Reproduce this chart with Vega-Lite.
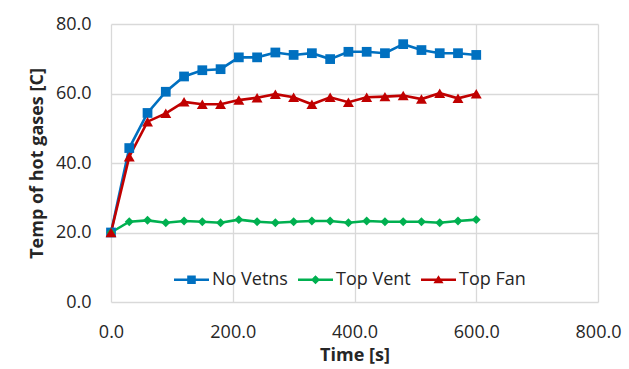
{
  "$schema": "https://vega.github.io/schema/vega-lite/v6.json",
  "width": 487,
  "height": 278,
  "autosize": {"type": "none"},
  "padding": {"left": 111, "top": 24, "right": 31, "bottom": 67},
  "background": "white",
  "config": {
    "font": "Open Sans",
    "view": {"stroke": null},
    "axis": {
      "labelFont": "Open Sans",
      "labelFontSize": 18,
      "labelColor": "#262626",
      "titleFont": "Open Sans",
      "titleFontSize": 18,
      "titleFontWeight": "bold",
      "titleColor": "#262626",
      "gridColor": "#D9D9D9",
      "gridWidth": 1.3,
      "domain": false,
      "ticks": false,
      "labelFlush": false
    }
  },
  "data": {
    "values": [
      {"time": 0, "series": "No Vetns", "temp": 20.0},
      {"time": 30, "series": "No Vetns", "temp": 44.3},
      {"time": 60, "series": "No Vetns", "temp": 54.4},
      {"time": 90, "series": "No Vetns", "temp": 60.5},
      {"time": 120, "series": "No Vetns", "temp": 64.9},
      {"time": 150, "series": "No Vetns", "temp": 66.7},
      {"time": 180, "series": "No Vetns", "temp": 67.0},
      {"time": 210, "series": "No Vetns", "temp": 70.4},
      {"time": 240, "series": "No Vetns", "temp": 70.4},
      {"time": 270, "series": "No Vetns", "temp": 71.8},
      {"time": 300, "series": "No Vetns", "temp": 71.1},
      {"time": 330, "series": "No Vetns", "temp": 71.6},
      {"time": 360, "series": "No Vetns", "temp": 69.9},
      {"time": 390, "series": "No Vetns", "temp": 72.0},
      {"time": 420, "series": "No Vetns", "temp": 72.0},
      {"time": 450, "series": "No Vetns", "temp": 71.6},
      {"time": 480, "series": "No Vetns", "temp": 74.2},
      {"time": 510, "series": "No Vetns", "temp": 72.5},
      {"time": 540, "series": "No Vetns", "temp": 71.6},
      {"time": 570, "series": "No Vetns", "temp": 71.6},
      {"time": 600, "series": "No Vetns", "temp": 71.1},
      {"time": 0, "series": "Top Vent", "temp": 20.0},
      {"time": 30, "series": "Top Vent", "temp": 23.1},
      {"time": 60, "series": "Top Vent", "temp": 23.5},
      {"time": 90, "series": "Top Vent", "temp": 22.8},
      {"time": 120, "series": "Top Vent", "temp": 23.3},
      {"time": 150, "series": "Top Vent", "temp": 23.1},
      {"time": 180, "series": "Top Vent", "temp": 22.8},
      {"time": 210, "series": "Top Vent", "temp": 23.7},
      {"time": 240, "series": "Top Vent", "temp": 23.1},
      {"time": 270, "series": "Top Vent", "temp": 22.8},
      {"time": 300, "series": "Top Vent", "temp": 23.1},
      {"time": 330, "series": "Top Vent", "temp": 23.3},
      {"time": 360, "series": "Top Vent", "temp": 23.3},
      {"time": 390, "series": "Top Vent", "temp": 22.8},
      {"time": 420, "series": "Top Vent", "temp": 23.3},
      {"time": 450, "series": "Top Vent", "temp": 23.1},
      {"time": 480, "series": "Top Vent", "temp": 23.1},
      {"time": 510, "series": "Top Vent", "temp": 23.1},
      {"time": 540, "series": "Top Vent", "temp": 22.8},
      {"time": 570, "series": "Top Vent", "temp": 23.3},
      {"time": 600, "series": "Top Vent", "temp": 23.7},
      {"time": 0, "series": "Top Fan", "temp": 20.0},
      {"time": 30, "series": "Top Fan", "temp": 41.8},
      {"time": 60, "series": "Top Fan", "temp": 51.9},
      {"time": 90, "series": "Top Fan", "temp": 54.3},
      {"time": 120, "series": "Top Fan", "temp": 57.6},
      {"time": 150, "series": "Top Fan", "temp": 56.9},
      {"time": 180, "series": "Top Fan", "temp": 56.9},
      {"time": 210, "series": "Top Fan", "temp": 58.1},
      {"time": 240, "series": "Top Fan", "temp": 58.8},
      {"time": 270, "series": "Top Fan", "temp": 59.8},
      {"time": 300, "series": "Top Fan", "temp": 58.9},
      {"time": 330, "series": "Top Fan", "temp": 56.9},
      {"time": 360, "series": "Top Fan", "temp": 58.9},
      {"time": 390, "series": "Top Fan", "temp": 57.5},
      {"time": 420, "series": "Top Fan", "temp": 58.9},
      {"time": 450, "series": "Top Fan", "temp": 59.1},
      {"time": 480, "series": "Top Fan", "temp": 59.4},
      {"time": 510, "series": "Top Fan", "temp": 58.4},
      {"time": 540, "series": "Top Fan", "temp": 60.1},
      {"time": 570, "series": "Top Fan", "temp": 58.6},
      {"time": 600, "series": "Top Fan", "temp": 59.9}
    ]
  },
  "encoding": {
    "x": {
      "field": "time",
      "type": "quantitative",
      "title": "Time [s]",
      "scale": {"domain": [0, 800], "nice": false, "zero": false},
      "axis": {"values": [0, 200, 400, 600, 800], "format": ".1f", "labelPadding": 21, "titlePadding": 5}
    },
    "y": {
      "field": "temp",
      "type": "quantitative",
      "title": "Temp of hot gases [C]",
      "scale": {"domain": [0, 80], "nice": false},
      "axis": {"values": [0, 20, 40, 60, 80], "format": ".1f", "labelPadding": 20, "titlePadding": 9}
    }
  },
  "layer": [
    {
      "mark": {"type": "line", "strokeWidth": 2.6},
      "encoding": {
        "color": {
          "field": "series",
          "type": "nominal",
          "scale": {"domain": ["No Vetns", "Top Vent", "Top Fan"], "range": ["#0070C0", "#00B050", "#C00000"]},
          "legend": {
            "orient": "none",
            "direction": "horizontal",
            "legendX": 63,
            "legendY": 238,
            "title": null,
            "labelFont": "Open Sans",
            "labelFontSize": 18,
            "labelColor": "#262626",
            "symbolSize": 1225,
            "symbolOpacity": 1,
            "symbolStrokeWidth": 0,
            "labelOffset": 3,
            "columnPadding": 10,
            "encode": {
              "symbols": {
                "update": {
                  "shape": {"signal": "datum.value === 'No Vetns' ? 'M-1,-0.074H1V0.074H-1Z M-0.245,-0.245H0.245V0.245H-0.245Z' : datum.value === 'Top Vent' ? 'M-1,-0.074H1V0.074H-1Z M0,-0.26L0.26,0L0,0.26L-0.26,0Z' : 'M-1,-0.074H1V0.074H-1Z M0,-0.26L0.29,0.2L-0.29,0.2Z'"},
                  "size": {"value": 1225},
                  "fill": {"signal": "datum.value === 'No Vetns' ? '#0070C0' : datum.value === 'Top Vent' ? '#00B050' : '#C00000'"},
                  "stroke": {"value": "transparent"},
                  "strokeWidth": {"value": 0}
                }
              }
            }
          }
        }
      }
    },
    {
      "transform": [{"filter": "datum.series === 'No Vetns'"}],
      "mark": {"type": "point", "filled": true, "opacity": 1, "size": 95, "shape": "square"},
      "encoding": {
        "color": {"field": "series", "type": "nominal", "legend": null}
      }
    },
    {
      "transform": [{"filter": "datum.series === 'Top Vent'"}],
      "mark": {"type": "point", "filled": true, "opacity": 1, "size": 80, "shape": "diamond"},
      "encoding": {
        "color": {"field": "series", "type": "nominal", "legend": null}
      }
    },
    {
      "transform": [{"filter": "datum.series === 'Top Fan'"}],
      "mark": {"type": "point", "filled": true, "opacity": 1, "size": 120, "shape": "triangle-up"},
      "encoding": {
        "color": {"field": "series", "type": "nominal", "legend": null}
      }
    }
  ]
}
